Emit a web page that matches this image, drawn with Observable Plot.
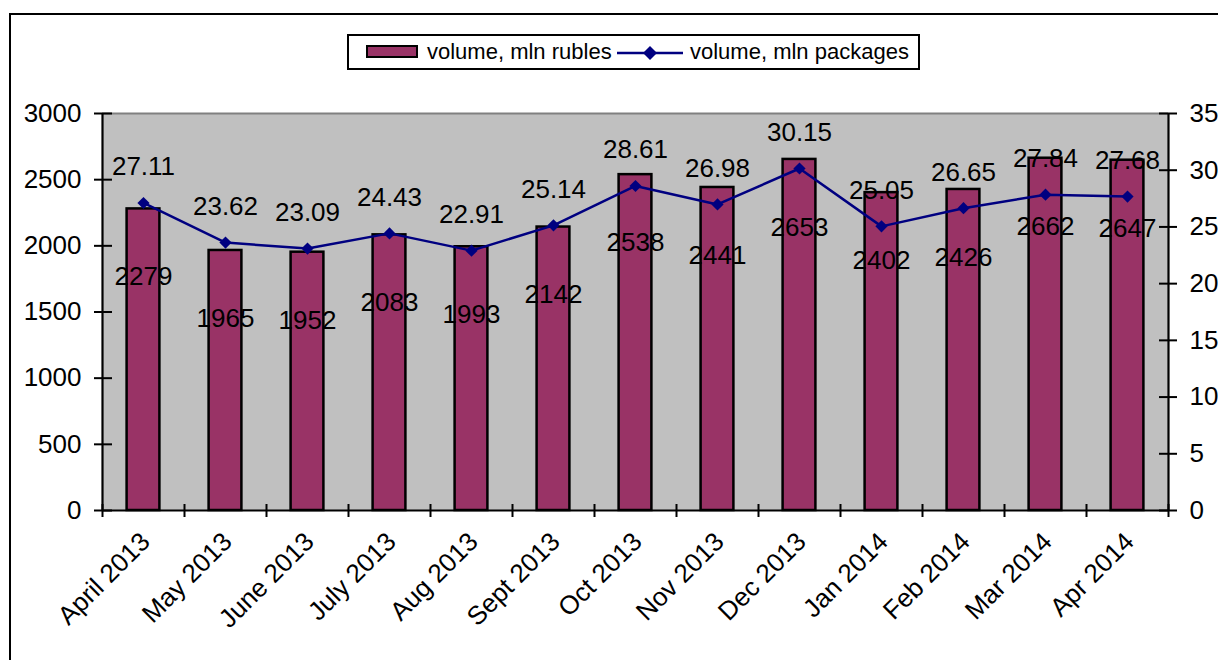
<!DOCTYPE html>
<html>
<head>
<meta charset="utf-8">
<script src="https://cdn.jsdelivr.net/npm/d3@7"></script>
<script src="https://cdn.jsdelivr.net/npm/@observablehq/plot@0.6"></script>
<style>
  html, body { margin: 0; padding: 0; background: #fff; }
  #wrap { position: relative; width: 1218px; height: 660px; overflow: hidden; font-family: "Liberation Sans", Arial, Helvetica, sans-serif; }
  #frame { position: absolute; left: 9px; top: 13px; width: 1400px; height: 800px; border: 2px solid #000; z-index: 3; pointer-events: none; }
  #legend { position: absolute; left: 347px; top: 34px; width: 569px; height: 32px; border: 2px solid #000; background: #fff; z-index: 4; font-size: 22px; color: #000; }
  #legend .sw { position: absolute; left: 17px; top: 9px; width: 48px; height: 9px; background: #993366; border: 2px solid #000; }
  #legend .t1 { position: absolute; left: 78px; top: 3px; line-height: 26px; white-space: nowrap; }
  #legend .ln { position: absolute; left: 268px; top: 4px; }
  #legend .t2 { position: absolute; left: 341px; top: 3px; line-height: 26px; white-space: nowrap; }
  #chart { position: absolute; left: 0; top: 0; z-index: 1; }
</style>
</head>
<body>
<div id="wrap">
  <div id="frame"></div>
  <div id="legend">
    <div class="sw"></div>
    <div class="t1">volume, mln rubles</div>
    <svg class="ln" width="70" height="26"><line x1="0" y1="13" x2="66" y2="13" stroke="#000080" stroke-width="2.5"/><path d="M33,6 L40,13 L33,20 L26,13 Z" fill="#000080"/></svg>
    <div class="t2">volume, mln packages</div>
  </div>
  <div id="chart"></div>
</div>
<script>
const months = ["April 2013", "May 2013", "June 2013", "July 2013", "Aug 2013", "Sept 2013", "Oct 2013", "Nov 2013", "Dec 2013", "Jan 2014", "Feb 2014", "Mar 2014", "Apr 2014"];
const rubles = [2279, 1965, 1952, 2083, 1993, 2142, 2538, 2441, 2653, 2402, 2426, 2662, 2647];
const packages = [27.11, 23.62, 23.09, 24.43, 22.91, 25.14, 28.61, 26.98, 30.15, 25.05, 26.65, 27.84, 27.68];
const leftTicks = [0, 500, 1000, 1500, 2000, 2500, 3000];
const rightTicks = [0, 5, 10, 15, 20, 25, 30, 35];
const leftMax = 3000, rightMax = 35;

const W = 1218, H = 660;
const mL = 102, mR = 50, mT = 113, mB = 150;
const plotW = W - mL - mR, plotH = H - mT - mB;
const toLeft = v => v * leftMax / rightMax;

const rows = months.map((m, i) => ({i, m, rubles: rubles[i], packages: packages[i]}));
const font = "Liberation Sans, Arial, Helvetica, sans-serif";
const fs = 26;

const chart = Plot.plot({
  width: W, height: H,
  marginLeft: mL, marginRight: mR, marginTop: mT, marginBottom: mB,
  style: {background: "transparent", fontFamily: font, color: "#000"},
  x: {type: "linear", domain: [0, months.length], axis: null},
  y: {domain: [0, leftMax], axis: null},
  marks: [
    Plot.frame({fill: "#c0c0c0", stroke: null}),
    Plot.ruleY([leftMax], {stroke: "#808080", strokeWidth: 2}),
    Plot.rectY(rows, {x1: d => d.i + 0.3, x2: d => d.i + 0.7, y: "rubles", fill: "#993366", stroke: "#000", strokeWidth: 2.5}),
    Plot.line(rows, {x: d => d.i + 0.5, y: d => toLeft(d.packages), stroke: "#000080", strokeWidth: 2.5}),
    Plot.dot(rows, {x: d => d.i + 0.5, y: d => toLeft(d.packages), symbol: "diamond2", r: 5.5, fill: "#000080", stroke: null}),
    // axis lines
    Plot.ruleX([0, months.length], {stroke: "#000", strokeWidth: 2.2}),
    Plot.ruleY([0], {stroke: "#000", strokeWidth: 2.2}),
    // left ticks (cross)
    Plot.ruleY(leftTicks, {stroke: "#000", strokeWidth: 2, insetLeft: -8, insetRight: plotW - 10}),
    Plot.text(leftTicks, {x: 0, y: d => d, text: d => String(d), dx: -21, textAnchor: "end", fontSize: fs, fill: "#000"}),
    // right ticks (cross)
    Plot.ruleY(rightTicks, {y: d => toLeft(d), stroke: "#000", strokeWidth: 2, insetLeft: plotW - 9, insetRight: -9}),
    Plot.text(rightTicks, {x: months.length, y: d => toLeft(d), text: d => String(d), dx: 21, textAnchor: "start", fontSize: fs, fill: "#000"}),
    // category boundary ticks
    Plot.ruleX(d3.range(months.length + 1), {stroke: "#000", strokeWidth: 2, insetTop: plotH - 6, insetBottom: -7}),
    // category labels
    Plot.text(rows, {x: d => d.i + 0.5, y: 0, text: "m", rotate: -45, textAnchor: "end", lineAnchor: "middle", dx: 2, dy: 27, fontSize: fs, fill: "#000"}),
    // data labels
    Plot.text(rows, {x: d => d.i + 0.5, y: "rubles", text: d => String(d.rubles), dy: 68, fontSize: fs, fill: "#000"}),
    Plot.text(rows, {x: d => d.i + 0.5, y: d => toLeft(d.packages), text: d => d.packages.toFixed(2), dy: -36, fontSize: fs, fill: "#000"})
  ]
});
document.getElementById("chart").appendChild(chart);
</script>
</body>
</html>
